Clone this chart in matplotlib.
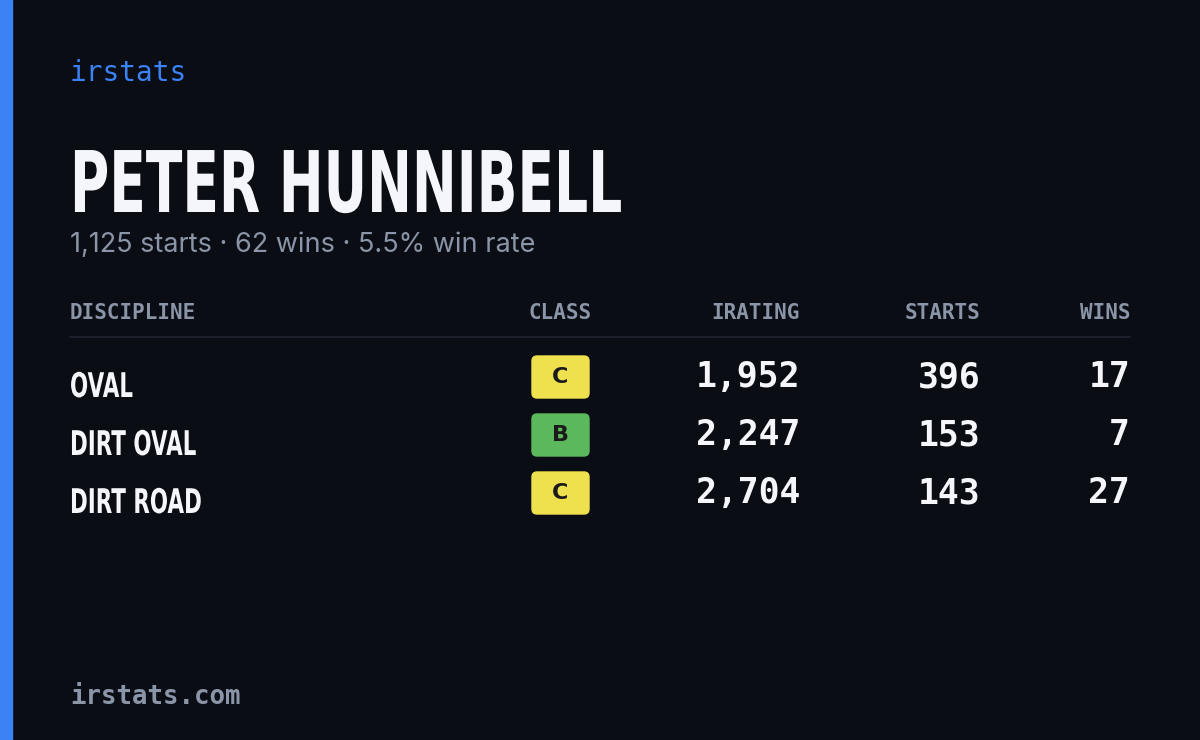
import matplotlib
matplotlib.use("Agg")
import matplotlib.pyplot as plt
from matplotlib.patches import FancyBboxPatch, Rectangle, PathPatch
from matplotlib.textpath import TextPath
from matplotlib.font_manager import FontProperties
from matplotlib.transforms import Affine2D

W, H = 1200, 740

player = "PETER HUNNIBELL"
summary = "1,125 starts · 62 wins · 5.5% win rate"
headers = ["DISCIPLINE", "CLASS", "IRATING", "STARTS", "WINS"]
disciplines = ["OVAL", "DIRT OVAL", "DIRT ROAD"]
classes = ["C", "B", "C"]
iratings = ["1,952", "2,247", "2,704"]
starts = ["396", "153", "143"]
wins = ["17", "7", "27"]

BG = "#0a0d14"
BLUE = "#3b82f6"
GRAY = "#8b95a8"
WHITE = "#f4f6fb"
CLASS_COLORS = {"C": "#efe04e", "B": "#5cb85c"}

MONO = ["DejaVu Sans Mono"]
BOLD = FontProperties(family="DejaVu Sans", weight="bold")

fig = plt.figure(figsize=(W / 100, H / 100), dpi=100, facecolor=BG)
ax = fig.add_axes([0, 0, 1, 1])
ax.set_xlim(0, W)
ax.set_ylim(H, 0)
ax.axis("off")
ax.set_facecolor(BG)


def condensed(x, baseline, s, em, sx=0.63):
    # no narrow font installed: squeeze a bold glyph path horizontally
    tp = TextPath((0, 0), s, size=em, prop=BOLD)
    tr = Affine2D().scale(sx, -1).translate(x, baseline) + ax.transData
    ax.add_patch(PathPatch(tp, transform=tr, color=WHITE, lw=0))


ax.add_patch(Rectangle((0, 0), 12, H, color=BLUE))

ax.text(70, 73, "irstats", color=BLUE, family=MONO, fontsize=20, fontweight="medium", va="center")
condensed(70, 212, player, 85)
ax.text(70, 245, summary, color=GRAY, family=["Inter", "DejaVu Sans"], fontsize=19.5, va="center")

hx = [70, 560, 800, 980, 1130]
ha = ["left", "center", "right", "right", "right"]
for h, x, a in zip(headers, hx, ha):
    ax.text(x, 313, h, color=GRAY, family=MONO, fontsize=15, fontweight="bold", ha=a, va="center")
ax.plot([70, 1130], [337, 337], color="#1e232e", lw=1.2)

row_y = [377, 435, 493]
for i, y in enumerate(row_y):
    condensed(70, y + 20, disciplines[i], 34)
    ax.add_patch(FancyBboxPatch((532 + 5, y - 21 + 5), 57 - 10, 42 - 10,
                                boxstyle="round,pad=5", color=CLASS_COLORS[classes[i]]))
    ax.text(560, y, classes[i], color="#1a1a1a", family=["DejaVu Sans"], fontsize=16,
            fontweight="bold", ha="center", va="center")
    for val, x in zip([iratings[i], starts[i], wins[i]], [800, 980, 1130]):
        ax.text(x, y, val, color=WHITE, family=MONO, fontsize=25, fontweight="bold",
                ha="right", va="center")

ax.text(70, 697, "irstats.com", color=GRAY, family=MONO, fontsize=18.5, fontweight="bold", va="center")

fig.savefig("out.png", dpi=100, facecolor=BG)
